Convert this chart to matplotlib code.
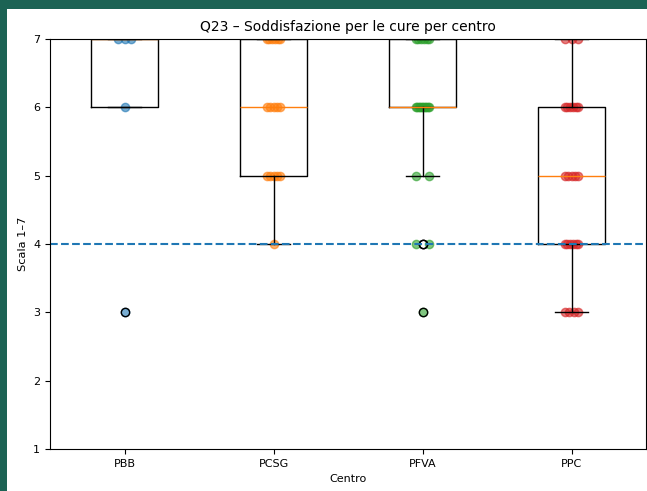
import numpy as np
import matplotlib
matplotlib.use("Agg")
import matplotlib.pyplot as plt
from matplotlib.patches import Rectangle

centri = ["PBB", "PCSG", "PFVA", "PPC"]
# punteggi (scala 1-7)
pbb = [7, 7, 7, 6, 3]
pcsg = [7, 7, 7, 7, 7, 7, 6, 6, 6, 6, 6, 5, 5, 5, 5, 5, 4]
pfva = [7, 7, 7, 7, 7, 7, 6, 6, 6, 6, 6, 6, 6, 6, 6, 6, 5, 5, 4, 4, 3]
ppc = [7, 7, 7, 6, 6, 6, 6, 6, 6, 5, 5, 5, 5, 5, 4, 4, 4, 4, 4, 4, 3, 3, 3, 3]
soglia = 4

dati = [pbb, pcsg, pfva, ppc]

fig = plt.figure(figsize=(6.47, 4.91), dpi=100, facecolor="#1c6354")
# area bianca della figura (screenshot con bordo verde)
fig.patches.append(Rectangle((7 / 647, 0), 1, 1 - 9 / 491, transform=fig.transFigure,
                             facecolor="white", edgecolor="none", zorder=-10))
ax = fig.add_axes([50 / 647, 1 - 449 / 491, 596 / 647, 410 / 491])

ax.boxplot(dati)

colori = ["C0", "C1", "C2", "C3"]
for i, vals in enumerate(dati):
    vals = np.array(vals)
    xs = np.zeros(len(vals))
    for v in np.unique(vals):
        idx = np.where(vals == v)[0]
        n = len(idx)
        if n == 1:
            xs[idx] = 0.0
        else:
            xs[idx] = np.linspace(-0.045, 0.045, n)
    ax.scatter(i + 1 + xs, vals, color=colori[i], alpha=0.6)

ax.axhline(soglia, linestyle="--")

ax.set_ylim(1, 7)
ax.set_xticks([1, 2, 3, 4])
ax.set_xticklabels(centri)
ax.tick_params(labelsize=8)
ax.set_title("Q23 – Soddisfazione per le cure per centro", fontsize=10)
ax.set_xlabel("Centro", fontsize=8)
ax.set_ylabel("Scala 1–7", fontsize=8.2)

fig.savefig("out.png", facecolor=fig.get_facecolor())
